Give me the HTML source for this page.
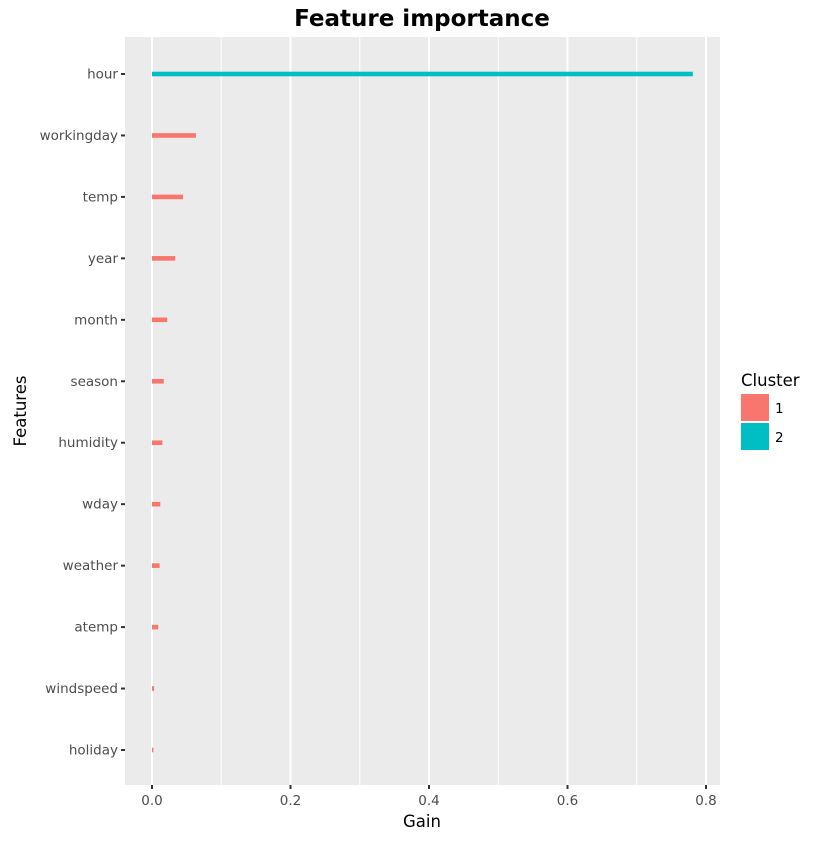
<!DOCTYPE html>
<html><head><meta charset="utf-8"><style>
body{margin:0;background:#fff;font-family:"Liberation Sans","DejaVu Sans",sans-serif}
svg text{font-family:"DejaVu Sans","Liberation Sans",sans-serif}
</style></head><body>
<svg id="c" width="840" height="840"></svg>
<script>
const features=["hour","workingday","temp","year","month","season","humidity","wday","weather","atemp","windspeed","holiday"];
const gains=[0.781,0.0636,0.0448,0.0336,0.022,0.017,0.015,0.012,0.011,0.009,0.003,0.002];
const clusters=[2,1,1,1,1,1,1,1,1,1,1,1];
const xTicks=[0,0.2,0.4,0.6,0.8];
const xMinor=[0.1,0.3,0.5,0.7];
const colors={1:"#F8766D",2:"#00BFC4"};
const svg=document.getElementById('c');const NS="http://www.w3.org/2000/svg";
const L=125,R=720,T=37,B=785;
const x=v=>152+v*692.5;
const y=i=>74+i*(750-74)/(features.length-1);
function mk(t,a,p){const e=document.createElementNS(NS,t);for(const k in a)e.setAttribute(k,a[k]);(p||svg).appendChild(e);return e;}
const panel=mk('rect',{x:L,y:T,width:R-L,height:B-T,fill:'#EBEBEB'});


xMinor.forEach(v=>{const l=mk('line',{x1:x(v),x2:x(v),y1:T,y2:B,stroke:'#fff','stroke-width':1});

});
xTicks.forEach(v=>{const l=mk('line',{x1:x(v),x2:x(v),y1:T,y2:B,stroke:'#fff','stroke-width':2});


const t=mk('line',{x1:x(v),x2:x(v),y1:B,y2:B+4,stroke:'#333','stroke-width':2});


const tx=mk('text',{x:x(v),y:B+20,'text-anchor':'middle','font-size':13.5,fill:'#4D4D4D'});tx.textContent=v.toFixed(1);

});
features.forEach((f,i)=>{
const b=mk('rect',{x:x(0),y:y(i)-2.3,width:x(gains[i])-x(0),height:4.6,fill:colors[clusters[i]]});


const t=mk('line',{x1:L-4,x2:L,y1:y(i),y2:y(i),stroke:'#333','stroke-width':2});


const tx=mk('text',{x:L-7,y:y(i)+4.5,'text-anchor':'end','font-size':13.5,fill:'#4D4D4D'});tx.textContent=f;

});
const title=mk('text',{x:422,y:26,'text-anchor':'middle','font-size':23,'font-weight':'bold',fill:'#000'});title.textContent="Feature importance";


const xt=mk('text',{x:422,y:827,'text-anchor':'middle','font-size':16.5,fill:'#000'});xt.textContent="Gain";


const yt=mk('text',{x:0,y:0,'text-anchor':'middle','font-size':16.5,fill:'#000',transform:'translate(26,411) rotate(-90)'});yt.textContent="Features";


const lt=mk('text',{x:741,y:386,'font-size':16.5,fill:'#000'});lt.textContent="Cluster";


[1,2].forEach((c,k)=>{const r=mk('rect',{x:741,y:394+k*29,width:28,height:27,fill:colors[c]});


const t=mk('text',{x:775,y:413+k*29,'font-size':13.5,fill:'#000'});t.textContent=String(c);

});
</script>
</body></html>
